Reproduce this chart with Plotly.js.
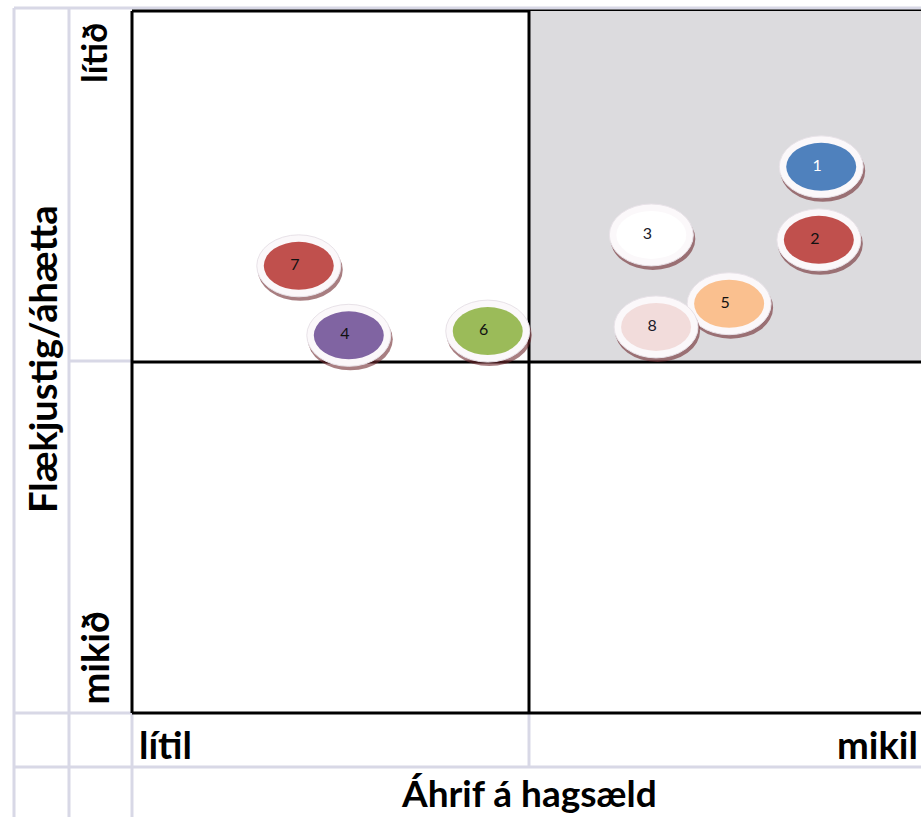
<!DOCTYPE html>
<html>
<head>
<meta charset="utf-8">
<script src="https://cdn.plot.ly/plotly-3.0.1.min.js"></script>
<style>html,body{margin:0;padding:0;background:#fff;}#chart{width:921px;height:817px;}</style>
</head>
<body>
<div id="chart"></div>
<script>
// ---- data ----
const labels = ["1", "2", "3", "4", "5", "6", "7", "8"];
const impact = [8.63, 8.60, 6.49, 2.68, 7.47, 4.43, 2.05, 6.55];      // Áhrif á hagsæld (0 = lítil, 10 = mikil)
const complexity = [2.22, 3.26, 3.19, 4.62, 4.17, 4.56, 3.63, 4.50];  // Flækjustig/áhætta (0 = lítið, 10 = mikið)
const bubbleColors = ["#4f81bd", "#c0504d", "#ffffff", "#8064a2", "#fac08f", "#9bbb59", "#c0504d", "#f2dcdb"];
const labelColors = ["#ffffff", "#111111", "#1a1a2a", "#111111", "#111111", "#111111", "#111111", "#1a1a2a"];
const xTickLabels = ["lítil", "mikil"];
const yTickLabels = ["lítið", "mikið"];
const xTitle = "Áhrif á hagsæld";
const yTitle = "Flækjustig/áhætta";

// ---- layout helpers ----
const W = 921, H = 817;
const L = 132, T = 11, B = 713;           // plot area edges in px
const PW = W - L, PH = B - T;
const px2xp = px => (px - L) / PW;
const py2yp = py => (B - py) / PH;
const lav = "#d8d8e6";
const shapes = [];

// grey top-right quadrant
shapes.push({type: "rect", xref: "x", yref: "y", x0: 5, x1: 10, y0: 0, y1: 5,
  fillcolor: "#dcdbde", line: {width: 0}, layer: "below"});

// lavender spreadsheet-like grid
function lline(x0, y0, x1, y1) {
  shapes.push({type: "line", xref: "paper", yref: "paper",
    x0: px2xp(x0), x1: px2xp(x1), y0: py2yp(y0), y1: py2yp(y1),
    line: {color: lav, width: 3}, layer: "below"});
}
lline(14, 8, 14, 817);
lline(69, 8, 69, 817);
lline(132, 713, 132, 817);
lline(529, 713, 529, 767);
lline(14, 8, 921, 8);
lline(69, 361, 132, 361);
lline(14, 713, 132, 713);
lline(14, 767, 921, 767);

// black quadrant borders
function bline(x0, y0, x1, y1, xr, yr) {
  shapes.push({type: "line", xref: xr, yref: yr, x0: x0, x1: x1, y0: y0, y1: y1,
    line: {color: "#000", width: 3}, layer: "below"});
}
bline(0, 1, 1, 1, "paper", "paper");
bline(0, 0, 1, 0, "paper", "paper");
bline(0, 0, 0, 1, "paper", "paper");
bline(5, 0, 5, 10, "x", "y");
bline(0, 5, 10, 5, "x", "y");

// bubbles (ellipse discs anchored at data points)
const dx = 4;
for (let i = 0; i < labels.length; i++) {
  const base = {type: "circle", xref: "x", yref: "y", xsizemode: "pixel", ysizemode: "pixel",
    xanchor: impact[i], yanchor: complexity[i], layer: "below"};
  // shadow / disc thickness
  shapes.push(Object.assign({}, base, {x0: dx - 41, x1: dx + 44, y0: -35, y1: 27,
    fillcolor: "rgba(110,40,45,0.6)", line: {width: 0}}));
  // white ring
  shapes.push(Object.assign({}, base, {x0: dx - 42, x1: dx + 42, y0: -31, y1: 31,
    fillcolor: "#fbf8fa", line: {color: "#e8e2e8", width: 1}}));
  // coloured face
  shapes.push(Object.assign({}, base, {x0: dx - 35, x1: dx + 35, y0: -24, y1: 24,
    fillcolor: bubbleColors[i], line: {width: 0}}));
}

const fam = "Lato, 'Open Sans', sans-serif";
const f = s => ({family: fam, size: s, color: "#000"});
const annotations = [
  {text: "<b>" + yTickLabels[0] + "</b>", xref: "paper", yref: "paper", x: px2xp(93), y: py2yp(21),
   xanchor: "center", yanchor: "top", textangle: -90, showarrow: false, font: f(35)},
  {text: "<b>" + yTickLabels[1] + "</b>", xref: "paper", yref: "paper", x: px2xp(93), y: py2yp(707),
   xanchor: "center", yanchor: "bottom", textangle: -90, showarrow: false, font: f(38)},
  {text: "<b>" + yTitle + "</b>", xref: "paper", yref: "paper", x: px2xp(42), y: py2yp(360),
   xanchor: "center", yanchor: "middle", textangle: -90, showarrow: false, font: f(38)},
  {text: "<b>" + xTickLabels[0] + "</b>", xref: "paper", yref: "paper", x: px2xp(137), y: py2yp(744),
   xanchor: "left", yanchor: "middle", showarrow: false, font: f(38)},
  {text: "<b>" + xTickLabels[1] + "</b>", xref: "paper", yref: "paper", x: px2xp(920), y: py2yp(744),
   xanchor: "right", yanchor: "middle", showarrow: false, font: f(38)},
  {text: "<b>" + xTitle + "</b>", xref: "paper", yref: "paper", x: px2xp(529), y: py2yp(792),
   xanchor: "center", yanchor: "middle", showarrow: false, font: f(37)}
];

const trace = {
  type: "scatter", mode: "text", x: impact, y: complexity, text: labels,
  textposition: "middle center",
  textfont: {family: fam, size: 16, color: labelColors},
  hoverinfo: "text", showlegend: false, cliponaxis: false
};

const axisBase = {showgrid: false, zeroline: false, showticklabels: false, showline: false, ticks: "", fixedrange: true};
const layout = {
  width: W, height: H,
  margin: {l: L, r: 0, t: T, b: H - B, pad: 0},
  paper_bgcolor: "#ffffff", plot_bgcolor: "#ffffff",
  xaxis: Object.assign({}, axisBase, {range: [0, PW / 79.4]}),
  yaxis: Object.assign({}, axisBase, {range: [10, 0]}),
  shapes: shapes, annotations: annotations, showlegend: false
};

Plotly.newPlot("chart", [trace], layout, {displayModeBar: false});
</script>
</body>
</html>
